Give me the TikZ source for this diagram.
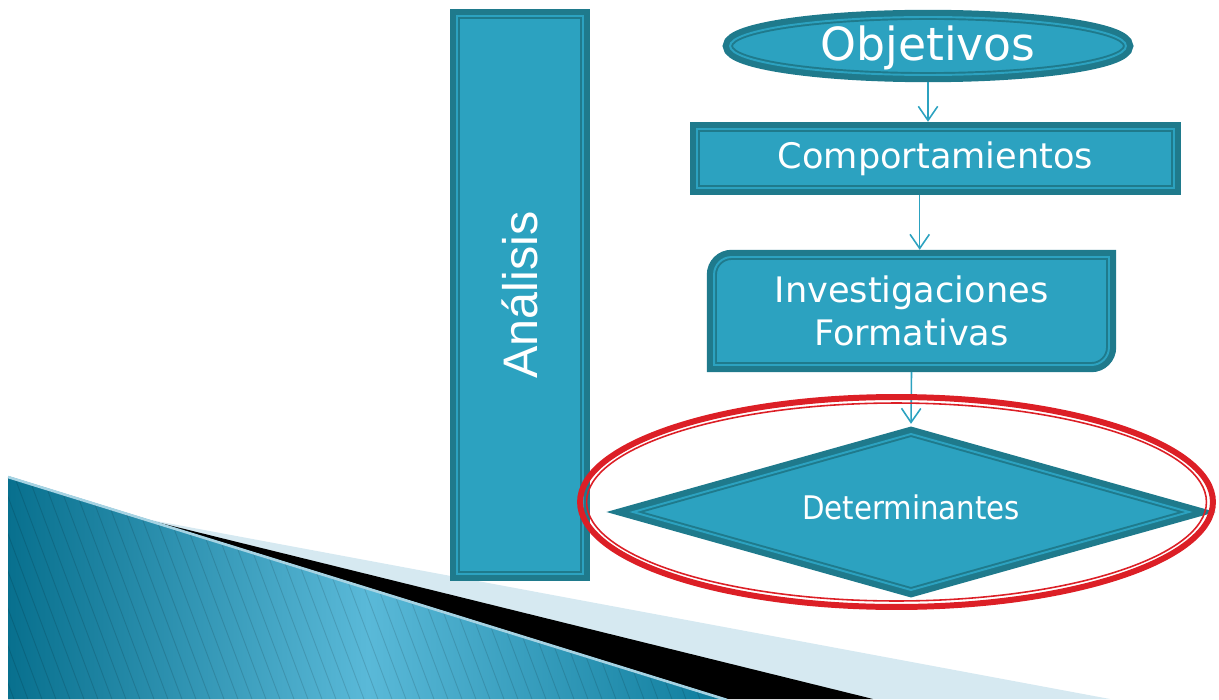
\documentclass[tikz,border=0pt]{standalone}
\usepackage{fontspec}
\setmainfont{DejaVu Sans}
\newfontfamily\condfont{DejaVu Sans Condensed}
\newfontfamily\arialfont{Liberation Sans}
\usetikzlibrary{arrows.meta,shapes.geometric,backgrounds}
\definecolor{boxfill}{HTML}{2CA2C0}
\definecolor{boxdark}{HTML}{1F7A8C}
\definecolor{ringred}{HTML}{DC1F26}
\definecolor{bandlight}{HTML}{D6E9F1}
\definecolor{waveleft}{HTML}{08708E}
\definecolor{wavemid}{HTML}{5AB9D8}
\definecolor{waveright}{HTML}{0D7C9C}
\definecolor{waveedge}{HTML}{A6D3E3}
\begin{document}
\begin{tikzpicture}[x=0.02cm,y=-0.02cm,>={Straight Barb[length=8pt,width=11pt]},
		frame/.style={preaction={draw=boxdark,line width=8.2pt},fill=boxfill,draw=boxdark,line width=1.1pt,double=boxfill,double distance=1.1pt},
		box/.style={frame,outer sep=4.1pt,inner sep=0pt,text=white},
		boxtext/.style={outer sep=4.1pt,inner sep=0pt,text=white},
		flow/.style={->,draw=boxfill,line width=0.9pt},
		stripe/.style={draw=black,opacity=0.12,line width=0.5pt}]
			\def\ow{4.1pt}
			\def\rr{10pt}
			\useasboundingbox (0,0) rectangle (1219,699);
			% bands in the lower left corner
			\fill [bandlight] (140,518) -- (1110,699) -- (8,699) -- cycle;
			\fill [black] (140,518) -- (873,699) -- (8,699) -- cycle;
			\shade [left color=waveleft,right color=waveright,middle color=wavemid] (8,476) -- (727,699) -- (8,699) -- cycle;
			\begin{scope}
				\clip (8,476) -- (727,699) -- (8,699) -- cycle;
				\foreach \s in {-100,-86,...,720} \draw [stripe] (\s,470) -- ++(90,240);
			\end{scope}
			\draw [waveedge,line width=1.5pt] (8,477) -- (727,700);
			% flow chart
			\node [box,rotate=90,minimum width=11.16cm,minimum height=2.52cm,font=\arialfont\fontsize{27.6}{32}\selectfont] (ana) at (520,295) {Análisis};
			\node [box,ellipse,minimum width=7.92cm,minimum height=1.16cm,text height=18pt,text depth=1pt,font=\fontsize{26}{30}\selectfont] (obj) at (928,46) {Objetivos};
			\node [box,minimum width=9.54cm,minimum height=1.18cm,font=\fontsize{20}{24}\selectfont] (comp) at (935.5,158.5) {Comportamientos};
			\node [boxtext,minimum width=7.9cm,minimum height=2.16cm,align=center,font=\fontsize{20}{24.4}\selectfont] (inv) at (911.5,311) {Investigaciones\\Formativas};
			\begin{scope}[on background layer]
				\draw [frame] ([shift={(\ow,-\ow-\rr)}]inv.north west) arc [start angle=180,end angle=90,radius=\rr] -- ([shift={(-\ow,-\ow)}]inv.north east) -- ([shift={(-\ow,\ow+\rr)}]inv.south east) arc [start angle=0,end angle=-90,radius=\rr] -- ([shift={(\ow,\ow)}]inv.south west) -- cycle;
			\end{scope}
			\node [box,diamond,aspect=3.5,minimum width=11.24cm,minimum height=3.24cm,text depth=6pt,font=\condfont\fontsize{18.5}{22}\selectfont] (dec) at (911,512) {Determinantes};
			\draw [flow] (obj.south) -- (obj.south |- comp.north);
			\draw [flow] ([xshift=-9pt]comp.south) -- ([xshift=-9pt]comp.south |- inv.north);
			\draw [flow] (inv.south) -- (dec.north);
			% red ring round the diamond
			\draw [ringred,line width=3.4pt] (896.5,502) ellipse [x radius=6.33cm,y radius=2.10cm];
			\draw [ringred,line width=0.9pt] (896.5,502) ellipse [x radius=6.2cm,y radius=1.98cm];
		\end{tikzpicture}
\end{document}
